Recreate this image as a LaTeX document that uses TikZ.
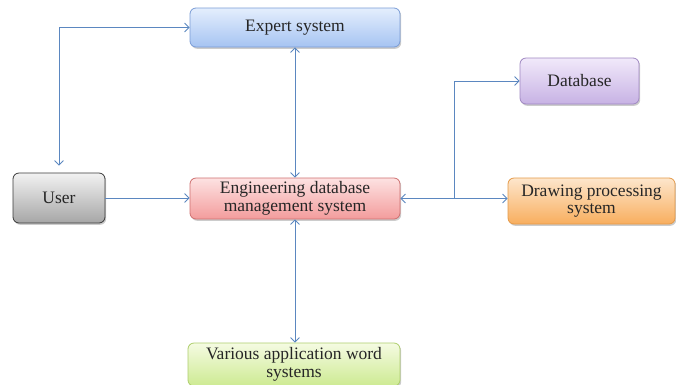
\documentclass[tikz,border=0pt]{standalone}
\usepackage{fontspec}
\setmainfont{Liberation Serif}
\usetikzlibrary{arrows.meta,shadows}
\definecolor{linkc}{HTML}{5B87C0}
\definecolor{exT}{HTML}{E4EEFD}\definecolor{exB}{HTML}{A6C4F2}\definecolor{exD}{HTML}{7A9CD6}
\definecolor{usT}{HTML}{F2F2F2}\definecolor{usB}{HTML}{A6A6A6}\definecolor{usD}{HTML}{3A3A3A}
\definecolor{edT}{HTML}{FDE2E2}\definecolor{edB}{HTML}{F39C9C}\definecolor{edD}{HTML}{CF7070}
\definecolor{dbT}{HTML}{F1E9FA}\definecolor{dbB}{HTML}{C7B2E4}\definecolor{dbD}{HTML}{A088C2}
\definecolor{drT}{HTML}{FDE6CC}\definecolor{drB}{HTML}{F8AE5E}\definecolor{drD}{HTML}{E59A48}
\definecolor{vaT}{HTML}{F5FBE2}\definecolor{vaB}{HTML}{CDEA92}\definecolor{vaD}{HTML}{AECE6C}
\begin{document}
\begin{tikzpicture}[x=1pt,y=-1pt,
  box/.style={draw, rounded corners=6pt, line width=0.8pt, align=center,
    font=\fontsize{17.5}{19}\selectfont, text=black!85, inner sep=0pt,
    drop shadow={shadow xshift=1.2pt,shadow yshift=-1.8pt,opacity=0.2,fill=black}},
  >={Straight Barb[length=4.5pt,width=9pt]},
  link/.style={draw=linkc, line width=0.8pt, ->},
  dlink/.style={draw=linkc, line width=0.8pt, <->},
]
\clip (0,0) rectangle (676,384);
\fill[white] (0,0) rectangle (676,384);

\node[box, draw=exD, top color=exT, bottom color=exB,
  minimum width=210pt, minimum height=39pt] (expert) at (295,27.5) {Expert system};
\node[box, draw=usD, top color=usT, bottom color=usB,
  minimum width=92pt, minimum height=50pt] (user) at (59,198) {User};
\node[box, draw=edD, top color=edT, bottom color=edB,
  minimum width=210pt, minimum height=41pt] (edms) at (295,198.5) {Engineering database\\[-1.5pt]management system};
\node[box, draw=dbD, top color=dbT, bottom color=dbB,
  minimum width=119pt, minimum height=46pt] (db) at (579.5,81) {Database};
\node[box, draw=drD, top color=drT, bottom color=drB,
  minimum width=167pt, minimum height=46pt] (dps) at (591.5,201) {Drawing processing\\[-1.5pt]system};
\node[box, draw=vaD, top color=vaT, bottom color=vaB,
  minimum width=212pt, minimum height=43pt] (various) at (294,364.5) {Various application word\\[-1.5pt]systems};

\draw[dlink, shorten <=7pt] (user.north) |- (expert.west);
\draw[link] (user.east) -- (user.east -| edms.west);
\draw[dlink] (expert.south) -- (edms.north);
\draw[dlink] (edms.south) -- (edms.south |- various.north);
\draw[dlink] (edms.east) -- (edms.east -| dps.west);
\coordinate (br) at (454,198.5);
\draw[link] (br) |- (db.west);
\end{tikzpicture}
\end{document}
